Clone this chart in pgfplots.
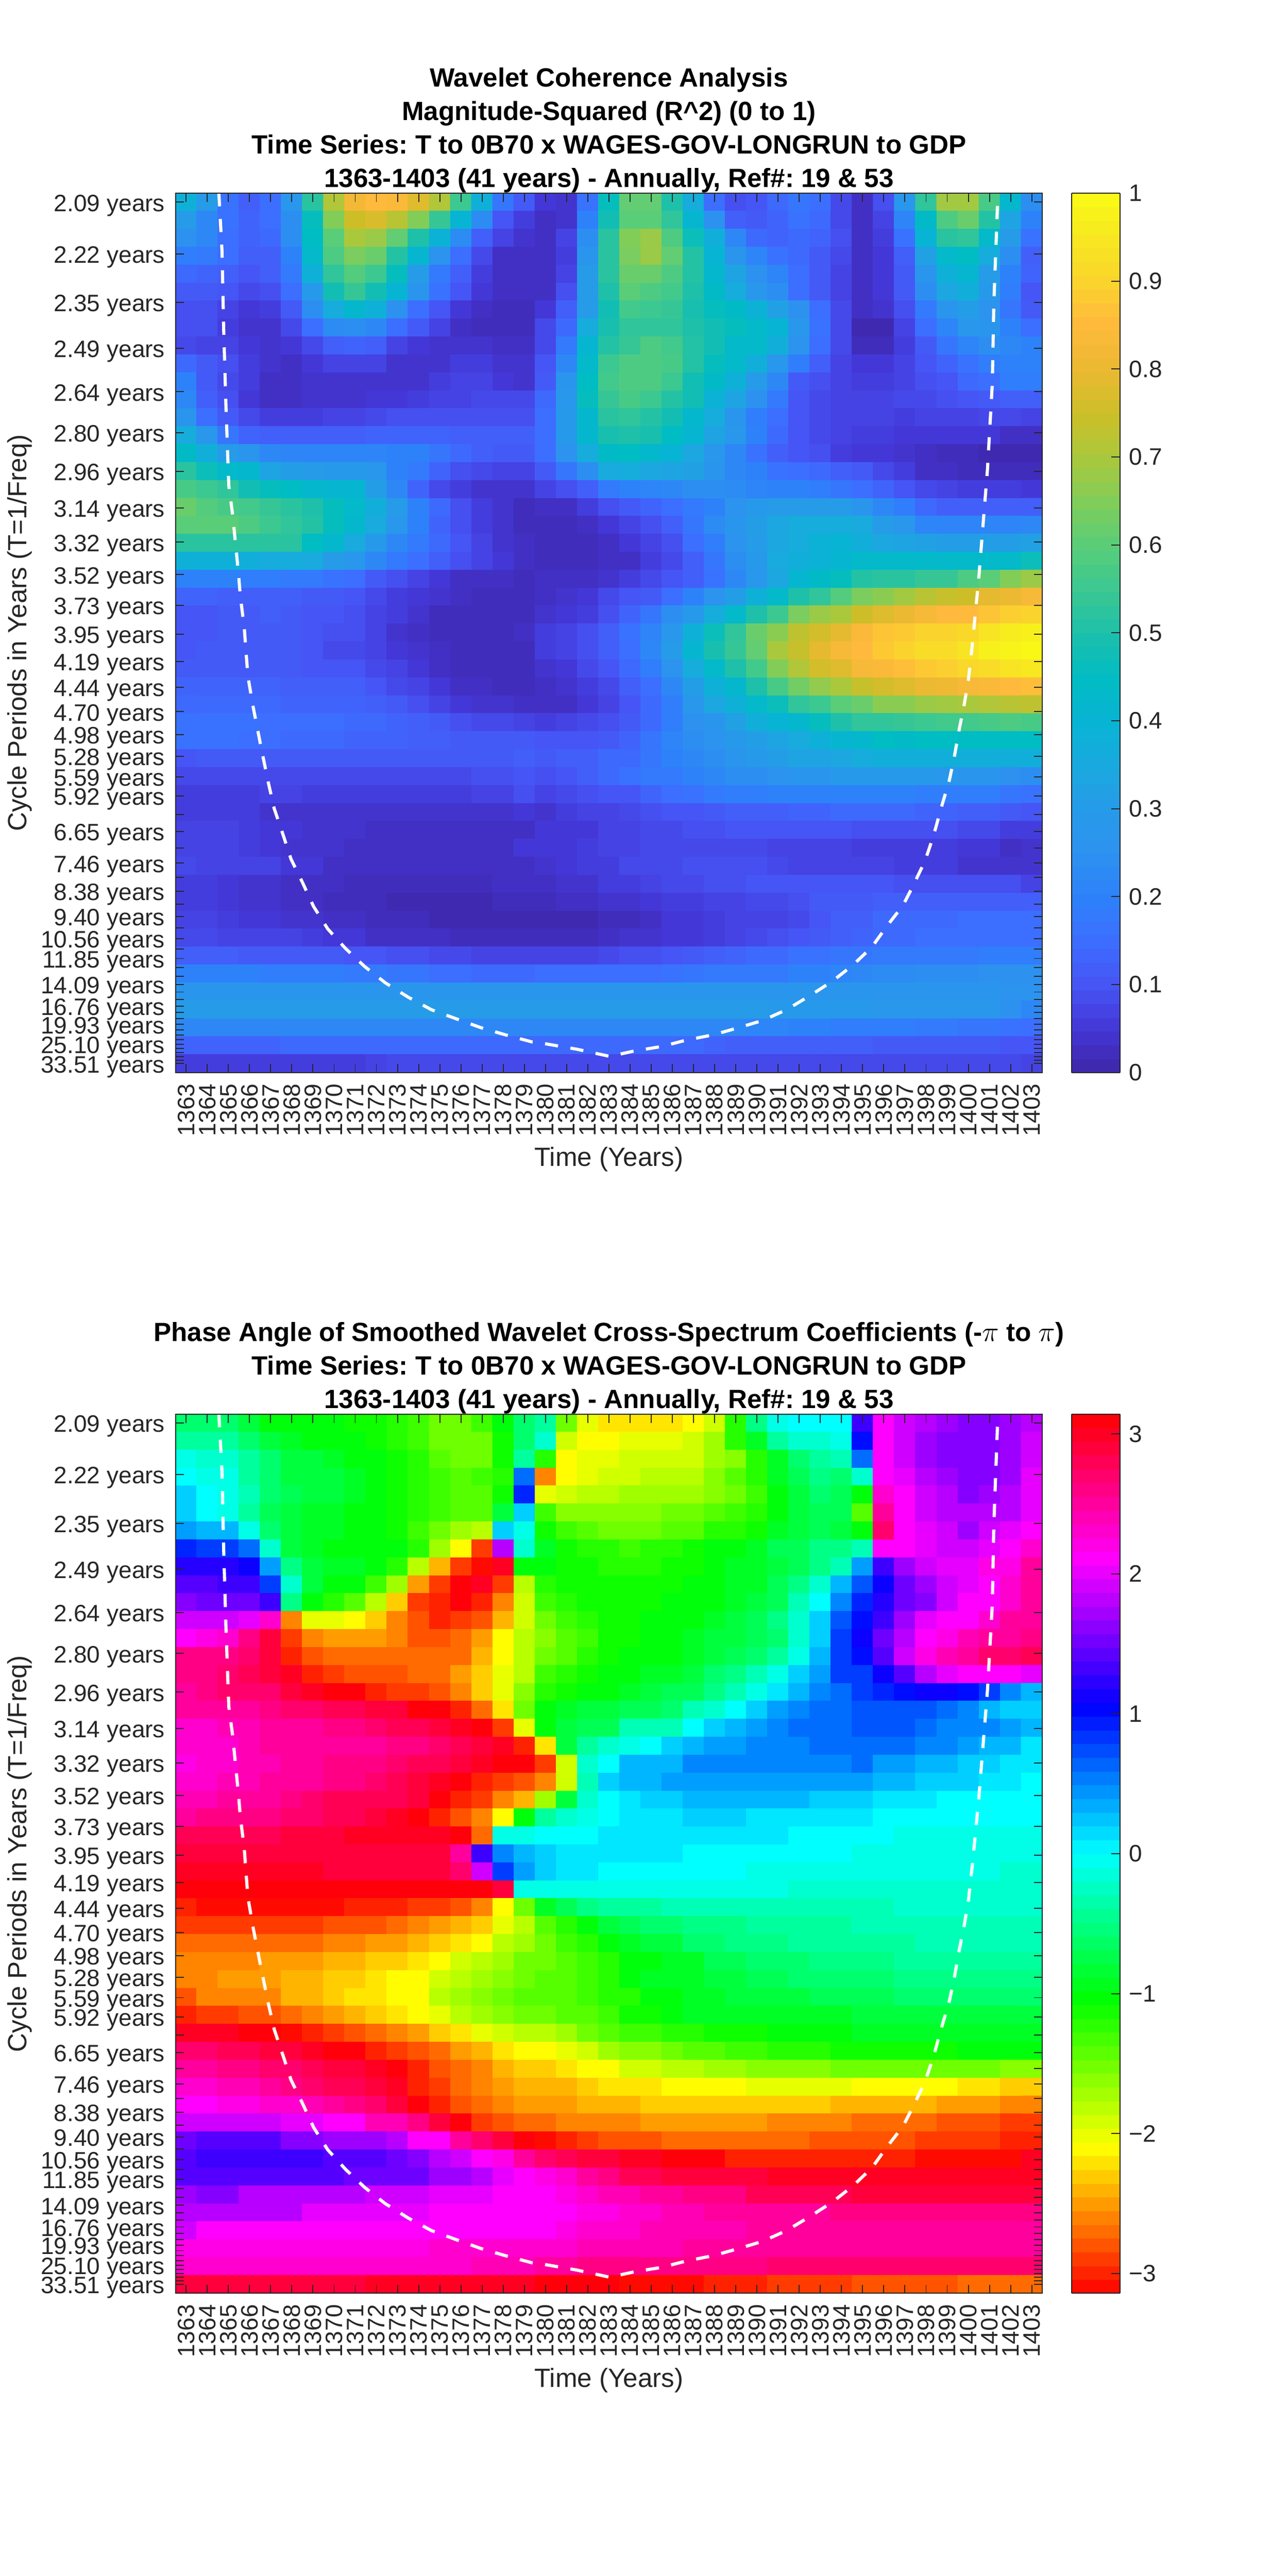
\documentclass[border=0pt]{standalone}
\usepackage{pgfplots}
\pgfplotsset{compat=1.18}
\usepackage{fontspec}
\setmainfont{Liberation Sans}
\frenchspacing
\newcount\rowi \newcount\coli
\def\HMdata{}
\def\HMe{2}
\def\HMcell#1 {\ifx x#1\let\HMnext\relax\else\xdef\HMdata{\HMdata(\the\coli,\the\rowi)[#1e-\HMe]}\advance\coli by 1 \let\HMnext\HMcell\fi\HMnext}
\def\HMrow#1{\coli=1363 \HMcell #1 x \advance\rowi by 1 }
% Coherence x 100, one line per period row, 1363..1403
\rowi=0
\HMrow{38 30 16 12 15 28 52 71 82 85 84 78 71 55 38 17 11 5 4 16 46 61 61 50 36 15 9 10 14 17 15 8 3 9 28 53 69 69 57 42 24}
\HMrow{30 22 16 13 15 24 46 65 75 77 72 65 54 40 23 10 6 3 4 20 48 60 60 53 41 25 12 11 13 16 14 8 3 7 21 44 58 62 51 33 20}
\HMrow{25 22 15 13 14 24 45 60 70 68 61 50 39 23 12 7 4 3 7 24 52 65 68 58 47 37 22 14 13 14 13 9 3 6 16 40 52 53 43 30 16}
\HMrow{19 18 15 12 12 20 43 58 64 62 51 41 26 15 8 3 3 3 6 27 52 64 68 61 51 40 27 21 16 14 11 8 3 5 12 32 43 45 36 24 12}
\HMrow{14 13 12 10 12 18 38 53 59 55 46 30 18 12 6 3 3 3 7 30 52 62 62 58 51 42 33 25 21 15 11 7 3 5 11 27 38 41 30 20 13}
\HMrow{11 11 10 8 9 15 29 48 54 48 40 27 16 10 5 3 3 3 9 30 50 60 58 56 50 44 36 28 24 15 11 7 3 5 11 24 34 37 29 19 10}
\HMrow{9 9 7 5 6 11 24 36 42 38 25 15 10 5 3 2 2 5 12 30 48 56 55 54 49 46 44 39 32 25 15 8 3 4 9 18 27 31 26 17 11}
\HMrow{9 9 6 4 4 8 15 23 24 22 15 11 7 3 2 2 2 8 14 36 49 53 53 53 50 48 46 43 40 28 16 8 1 1 7 15 21 28 27 20 15}
\HMrow{8 7 7 5 4 5 8 12 13 12 7 5 4 4 4 3 3 8 18 41 51 54 58 56 51 48 43 43 37 26 15 8 2 2 6 11 17 21 24 22 20}
\HMrow{14 11 9 6 4 3 5 7 7 7 4 4 4 6 6 4 4 10 22 43 55 58 58 57 51 46 43 37 28 19 12 7 5 5 7 10 13 16 19 20 20}
\HMrow{20 11 8 6 3 3 4 4 4 4 4 4 6 7 7 5 4 11 27 45 56 58 58 55 48 44 38 30 22 11 9 7 6 6 7 9 10 14 15 19 19}
\HMrow{22 12 9 5 3 3 4 4 4 5 5 6 7 7 8 8 8 14 28 46 54 57 55 51 48 39 33 25 18 10 8 7 7 7 8 8 9 10 11 12 12}
\HMrow{27 15 11 8 6 6 6 7 7 8 9 9 9 9 9 9 9 15 29 42 52 53 51 48 42 36 27 19 15 10 8 7 7 7 6 7 7 7 8 8 7}
\HMrow{36 28 17 13 12 12 12 12 12 13 13 13 13 12 12 12 12 15 29 42 49 50 49 45 41 33 28 20 14 10 8 7 6 6 5 5 5 5 5 3 3}
\HMrow{44 37 30 27 22 21 21 21 21 21 20 20 17 14 12 11 11 15 26 36 44 45 42 40 34 28 22 16 12 10 9 6 5 5 4 3 2 2 1 1 1}
\HMrow{52 47 43 42 33 31 30 29 29 28 20 18 13 9 8 7 7 11 17 24 35 36 34 33 32 27 22 20 16 15 14 12 11 8 6 3 3 2 2 2 2}
\HMrow{57 55 53 48 46 45 42 41 41 31 22 13 8 6 4 4 4 7 9 12 18 20 21 22 24 24 23 21 20 20 19 17 15 13 10 8 7 6 6 6 5}
\HMrow{62 59 57 56 54 52 50 46 43 37 30 20 14 9 6 4 2 3 3 6 9 11 13 15 18 20 26 29 30 30 30 30 27 22 19 14 12 12 12 12 12}
\HMrow{60 60 60 58 55 53 51 46 42 35 28 20 13 9 6 4 2 2 2 3 5 7 9 12 17 23 27 31 34 36 36 36 35 30 28 21 21 21 21 21 22}
\HMrow{52 52 52 52 52 52 45 42 35 29 22 18 14 10 7 4 3 2 2 2 3 5 7 9 15 19 26 30 34 36 39 40 37 34 33 32 31 31 31 31 32}
\HMrow{38 38 38 37 36 36 35 30 28 22 18 15 12 9 7 5 3 2 2 2 3 3 6 8 12 17 24 29 35 37 39 41 43 43 43 43 43 43 43 43 47}
\HMrow{20 20 20 19 19 18 18 16 15 11 9 7 5 3 3 3 2 3 3 3 4 6 8 10 12 16 22 28 34 41 44 46 51 52 52 54 54 58 60 65 68}
\HMrow{13 13 12 12 12 12 11 11 10 8 6 5 4 3 2 2 2 3 4 5 8 10 11 15 20 26 31 38 43 50 53 59 64 66 69 72 74 75 79 80 83}
\HMrow{10 10 11 11 12 11 10 10 9 7 6 4 2 2 2 2 2 4 5 6 9 13 17 24 29 36 43 50 55 64 68 70 75 78 80 83 85 85 87 89 90}
\HMrow{10 10 11 11 11 11 10 9 9 7 4 3 2 2 2 2 3 6 7 9 12 16 21 28 38 47 53 62 66 73 76 79 84 87 88 90 90 91 94 96 97}
\HMrow{10 11 11 11 11 11 10 8 8 7 5 4 3 2 2 2 2 6 7 9 12 15 22 30 41 49 54 61 70 74 79 83 85 88 90 92 92 94 97 98 99}
\HMrow{11 11 11 11 11 11 10 10 10 8 7 5 3 2 2 2 2 4 5 8 10 14 19 26 36 43 50 56 65 71 76 78 83 84 86 88 89 91 92 94 95}
\HMrow{13 13 13 13 13 12 12 12 12 10 8 7 5 3 3 2 2 3 4 6 8 12 15 22 31 38 42 50 57 63 67 70 74 76 78 80 81 83 84 85 86}
\HMrow{14 14 14 14 14 13 13 13 13 12 11 9 7 5 4 4 3 3 3 5 7 10 14 19 28 34 38 43 47 53 55 60 62 66 66 68 69 70 71 72 73}
\HMrow{16 16 16 16 15 15 15 15 14 14 13 12 11 9 8 8 7 6 7 8 9 11 14 19 25 27 32 37 40 42 46 50 53 53 54 55 56 56 57 58 57}
\HMrow{16 16 16 15 15 14 14 14 13 13 13 12 12 11 11 11 11 10 10 10 11 13 17 21 24 26 29 31 33 35 38 41 42 45 44 45 45 45 45 45 45}
\HMrow{10 11 11 11 11 11 11 11 11 11 11 11 11 11 11 11 12 11 12 12 14 14 17 20 22 24 27 29 31 33 33 34 36 37 37 37 37 37 37 37 37}
\HMrow{8 8 8 8 8 8 8 8 8 8 8 8 8 8 9 9 10 9 10 12 14 16 18 18 20 22 24 24 26 27 27 29 29 29 29 29 28 27 27 25 24}
\HMrow{6 6 6 6 7 7 6 6 6 6 6 6 6 6 7 7 9 7 8 9 10 10 13 15 16 18 19 19 20 20 20 20 20 20 20 19 19 19 19 17 16}
\HMrow{6 6 6 6 4 4 4 4 4 4 4 4 4 4 4 4 5 4 6 7 7 8 9 10 10 11 12 12 12 13 13 14 14 14 14 13 13 12 12 11 10}
\HMrow{7 7 7 6 5 5 4 4 4 3 3 3 3 3 3 3 3 5 5 5 7 7 8 8 9 9 10 10 10 10 10 10 9 9 9 9 9 8 8 6 6}
\HMrow{7 7 7 6 5 4 4 4 3 3 3 3 3 3 3 3 5 5 5 6 7 7 8 8 8 8 8 8 7 7 7 7 6 6 6 6 6 5 5 3 4}
\HMrow{8 7 7 7 7 5 5 3 3 3 3 3 3 3 3 3 3 4 5 6 6 8 8 8 9 9 9 9 8 7 7 7 7 7 6 6 6 4 4 4 4}
\HMrow{6 6 5 4 4 3 3 3 2 2 2 2 2 2 2 3 3 3 4 4 6 6 7 8 8 9 9 10 10 10 10 10 10 10 9 9 9 9 9 9 7}
\HMrow{6 6 5 4 4 3 3 2 2 2 1 1 1 1 1 2 2 2 3 3 4 4 5 6 6 7 7 8 8 9 11 11 11 12 12 12 12 12 12 12 12}
\HMrow{7 7 6 5 5 4 4 3 3 2 2 2 1 1 1 1 1 1 1 1 2 2 3 5 5 6 7 7 7 8 10 12 12 14 14 14 14 15 15 15 15}
\HMrow{8 8 7 7 7 7 6 5 5 3 3 3 3 2 2 2 2 2 2 2 3 4 4 5 5 6 7 8 9 10 11 12 13 14 14 15 15 15 15 15 15}
\HMrow{12 12 12 11 11 11 11 11 10 10 9 9 8 8 7 7 7 7 7 7 8 9 9 10 11 12 13 14 14 16 16 17 17 18 18 18 18 18 19 19 19}
\HMrow{20 20 20 20 19 19 19 19 18 18 17 17 15 15 14 14 14 15 15 15 15 15 15 16 17 18 18 18 18 20 20 21 22 23 23 24 24 24 25 25 25}
\HMrow{27 27 27 27 27 27 27 27 27 27 27 27 27 27 27 27 27 27 27 27 27 27 27 27 27 27 27 27 27 27 27 27 27 27 27 27 27 27 27 26 26}
\HMrow{30 30 30 30 30 30 30 30 30 30 30 30 30 30 30 30 30 30 30 30 30 30 30 30 30 30 30 30 29 29 29 29 29 28 28 28 28 28 28 25 22}
\HMrow{22 22 22 22 22 22 22 22 22 22 22 22 22 22 22 22 22 22 22 22 22 22 22 22 22 22 22 21 21 20 20 19 19 19 19 18 18 17 17 16 15}
\HMrow{13 13 13 13 13 14 14 14 14 14 14 14 14 14 14 14 14 14 14 14 14 14 14 14 14 13 12 12 12 12 12 12 12 11 11 11 11 11 11 10 10}
\HMrow{6 6 6 6 6 6 6 6 6 7 8 8 8 8 8 8 8 8 8 8 8 8 8 8 8 8 8 8 8 8 8 8 8 8 8 8 8 8 8 8 7}
\let\DataA\HMdata
\def\HMdata{}
\def\HMe{1}
% Phase angle x 10, one line per period row, 1363..1403
\rowi=0
\HMrow{-6 -6 -6 -8 -10 -10 -10 -10 -11 -11 -12 -13 -15 -15 -13 -10 -6 -4 -15 -20 -22 -22 -22 -22 -21 -19 -12 -5 -1 0 0 0 13 21 19 18 17 16 16 17 18}
\HMrow{-4 -4 -4 -6 -8 -9 -10 -10 -10 -11 -12 -13 -15 -15 -15 -11 -6 -2 -19 -21 -21 -20 -20 -20 -19 -17 -12 -9 -4 -2 -2 -1 10 21 19 17 16 16 16 17 19}
\HMrow{-1 -2 -2 -4 -6 -8 -8 -9 -10 -10 -11 -12 -14 -15 -15 -11 -4 -12 -21 -20 -20 -19 -19 -19 -19 -17 -16 -12 -9 -6 -4 -3 6 21 19 17 16 16 16 17 19}
\HMrow{0 -1 -1 -4 -6 -8 -8 -8 -9 -10 -11 -12 -13 -14 -13 -12 6 -26 -21 -20 -19 -19 -18 -18 -18 -16 -14 -12 -9 -7 -5 -6 -2 21 20 18 17 16 16 17 20}
\HMrow{2 0 -1 -3 -6 -7 -8 -8 -9 -10 -11 -12 -13 -14 -14 -11 9 -20 -19 -18 -18 -17 -17 -17 -17 -16 -15 -13 -10 -8 -6 -7 -10 23 21 19 18 16 17 18 20}
\HMrow{2 0 -1 -4 -7 -8 -9 -9 -10 -10 -11 -12 -13 -14 -14 -8 2 -13 -16 -16 -16 -16 -16 -15 -15 -14 -13 -12 -10 -8 -7 -7 -14 25 21 19 18 18 18 18 20}
\HMrow{4 3 3 -1 -6 -8 -9 -9 -10 -10 -11 -13 -15 -17 -18 2 -1 -11 -13 -14 -15 -15 -15 -14 -14 -12 -12 -11 -9 -8 -7 -8 -10 27 21 20 19 17 19 20 21}
\HMrow{9 8 8 6 -2 -8 -9 -10 -10 -10 -10 -12 -17 -21 -29 18 -2 -9 -11 -12 -12 -13 -12 -12 -11 -10 -10 -9 -7 -7 -5 -5 -3 21 21 20 19 19 20 21 23}
\HMrow{12 12 12 11 4 -5 -8 -9 -9 -10 -12 -18 -24 -29 -31 30 -10 -10 -11 -11 -12 -12 -12 -11 -11 -10 -9 -9 -8 -7 -5 -3 4 13 17 19 20 20 22 22 25}
\HMrow{14 14 13 13 8 -2 -8 -10 -10 -13 -17 -25 -29 31 30 -29 -18 -12 -11 -11 -11 -11 -11 -11 -10 -10 -9 -9 -7 -5 -2 3 7 11 15 17 19 20 21 23 25}
\HMrow{16 15 15 15 13 -5 -10 -12 -14 -18 -23 -29 -30 31 -30 -26 -19 -13 -12 -11 -11 -11 -11 -10 -10 -10 -9 -8 -7 -3 0 5 9 12 15 16 19 21 21 23 25}
\HMrow{19 19 19 20 23 -26 -20 -20 -21 -23 -26 -28 -30 -29 -28 -24 -19 -15 -13 -12 -11 -11 -10 -10 -10 -9 -8 -7 -5 -2 2 7 10 13 17 20 21 21 23 25 25}
\HMrow{21 22 23 26 29 -29 -26 -25 -25 -25 -26 -28 -28 -27 -25 -21 -18 -16 -14 -13 -11 -11 -10 -10 -9 -8 -8 -7 -6 -2 2 8 11 15 18 21 22 24 25 25 26}
\HMrow{26 26 26 27 29 -30 -28 -27 -27 -27 -27 -27 -27 -27 -24 -21 -18 -15 -14 -12 -11 -10 -10 -10 -9 -8 -7 -6 -4 -1 3 8 10 14 19 22 24 25 27 27 28}
\HMrow{26 26 27 28 29 30 -30 -29 -28 -28 -28 -27 -27 -25 -23 -20 -18 -13 -12 -11 -10 -10 -9 -9 -8 -6 -5 -3 -1 2 4 8 8 11 14 18 20 21 21 21 20}
\HMrow{25 26 27 27 27 29 30 31 31 -30 -29 -29 -28 -26 -23 -20 -16 -12 -11 -10 -10 -9 -8 -7 -7 -5 -3 -1 1 3 5 6 8 9 10 11 11 10 8 5 3}
\HMrow{25 25 25 25 26 27 27 28 28 29 29 31 31 -30 -27 -22 -15 -10 -9 -8 -8 -7 -7 -6 -3 -2 0 2 4 5 6 6 7 7 7 7 6 5 3 2 2}
\HMrow{23 23 24 24 25 25 25 26 26 27 28 28 29 30 31 -29 -20 -10 -8 -7 -7 -3 -3 -3 0 2 3 4 5 6 6 6 7 7 7 6 5 5 5 4 3}
\HMrow{23 23 23 24 25 25 25 25 25 25 26 26 27 28 29 30 -30 -22 -8 -4 -2 -1 0 2 3 4 4 5 5 5 6 6 6 6 6 5 5 4 3 3 1}
\HMrow{22 23 23 24 24 25 25 26 26 26 27 28 28 29 30 31 31 -29 -19 -2 0 3 3 3 5 5 5 5 5 5 5 5 6 4 4 3 3 2 2 1 1}
\HMrow{23 23 24 24 25 25 25 26 26 27 28 29 30 31 -30 -29 -28 -26 -19 -3 2 3 3 4 4 4 4 4 4 4 4 4 4 3 3 2 2 2 1 1 0}
\HMrow{24 24 25 25 25 26 27 28 28 28 28 29 31 -30 -29 -26 -24 -17 -8 -2 0 1 2 2 3 3 3 3 3 3 2 2 2 1 1 1 0 0 0 0 0}
\HMrow{25 26 26 26 26 27 27 28 28 29 30 31 -30 -28 -26 -21 -10 -4 -2 -1 0 1 1 1 2 2 2 1 1 1 1 1 1 0 0 0 0 0 0 0 0}
\HMrow{28 28 28 28 28 29 29 29 30 30 30 30 30 31 -27 -1 -1 0 0 0 1 1 1 1 1 1 1 1 1 0 0 0 0 0 -1 -1 -1 -1 -1 -1 -1}
\HMrow{29 29 29 29 29 29 29 29 29 29 29 29 29 25 13 5 3 2 1 1 1 1 1 1 0 0 0 0 0 0 0 0 -1 -1 -1 -1 -1 -1 -1 -1 -1}
\HMrow{30 30 30 30 30 30 30 29 29 29 29 29 29 27 19 8 4 2 1 1 0 0 0 0 0 0 0 -1 -1 -1 -1 -1 -1 -1 -1 -1 -1 -1 -1 -2 -2}
\HMrow{31 31 31 31 31 31 31 31 31 31 31 31 31 31 31 29 -1 -1 -1 -1 -1 -1 -1 -1 -1 -1 -1 -1 -1 -2 -2 -2 -2 -2 -2 -2 -2 -2 -2 -2 -2}
\HMrow{-30 -31 -31 -31 -31 -31 -31 -31 -30 -30 -30 -29 -29 -28 -26 -21 -15 -9 -7 -5 -4 -4 -4 -3 -3 -3 -3 -3 -3 -3 -3 -3 -3 -3 -2 -2 -2 -2 -2 -2 -2}
\HMrow{-29 -29 -29 -29 -29 -29 -29 -28 -28 -28 -27 -26 -25 -24 -23 -20 -18 -14 -12 -10 -8 -7 -6 -6 -5 -5 -5 -4 -4 -4 -4 -4 -3 -3 -3 -3 -3 -3 -3 -3 -3}
\HMrow{-27 -27 -27 -27 -27 -27 -27 -26 -26 -25 -25 -24 -23 -22 -21 -18 -17 -15 -13 -12 -10 -9 -8 -8 -6 -6 -5 -5 -5 -4 -4 -4 -4 -4 -4 -3 -3 -3 -3 -3 -3}
\HMrow{-26 -26 -26 -26 -25 -25 -25 -24 -24 -23 -23 -22 -21 -19 -18 -17 -15 -15 -14 -13 -12 -10 -10 -9 -9 -7 -7 -6 -6 -6 -5 -5 -5 -5 -4 -4 -4 -4 -4 -4 -4}
\HMrow{-26 -26 -25 -25 -25 -24 -24 -23 -23 -22 -21 -21 -19 -18 -17 -16 -15 -14 -14 -13 -12 -10 -9 -9 -9 -8 -8 -7 -7 -6 -6 -6 -6 -6 -5 -5 -5 -5 -5 -5 -5}
\HMrow{-28 -26 -26 -26 -26 -24 -24 -23 -22 -22 -21 -21 -18 -17 -16 -15 -14 -14 -14 -13 -12 -12 -10 -10 -9 -9 -8 -8 -8 -8 -7 -7 -7 -7 -6 -6 -6 -6 -6 -6 -6}
\HMrow{-30 -29 -29 -28 -28 -27 -26 -25 -24 -23 -22 -21 -20 -18 -17 -16 -15 -15 -14 -14 -13 -11 -11 -10 -9 -9 -9 -9 -9 -9 -9 -9 -8 -8 -8 -8 -8 -8 -8 -8 -8}
\HMrow{30 30 30 31 31 -31 -30 -29 -28 -27 -26 -25 -23 -22 -20 -19 -18 -18 -17 -15 -14 -13 -13 -12 -12 -11 -11 -11 -10 -10 -10 -10 -9 -9 -9 -9 -9 -9 -9 -9 -9}
\HMrow{27 27 28 28 29 29 30 31 31 -30 -29 -28 -27 -25 -24 -22 -21 -21 -20 -19 -17 -16 -16 -15 -14 -14 -13 -13 -12 -12 -12 -11 -11 -11 -11 -11 -11 -10 -10 -10 -10}
\HMrow{25 25 26 26 27 27 28 29 29 30 31 -30 -28 -27 -26 -24 -23 -23 -22 -21 -21 -19 -19 -18 -18 -17 -17 -16 -16 -16 -16 -15 -15 -15 -15 -15 -15 -15 -15 -16 -16}
\HMrow{23 23 24 24 25 26 27 28 28 29 30 -30 -29 -27 -26 -25 -24 -24 -24 -23 -22 -22 -22 -21 -21 -21 -21 -20 -20 -20 -20 -20 -21 -21 -21 -21 -21 -22 -22 -23 -23}
\HMrow{21 21 22 22 23 23 24 25 26 27 29 31 -30 -28 -27 -26 -25 -25 -25 -24 -24 -24 -23 -23 -23 -23 -23 -23 -23 -23 -23 -24 -24 -24 -24 -24 -25 -25 -25 -26 -26}
\HMrow{19 19 19 19 19 20 20 21 21 24 24 26 29 31 -29 -28 -27 -27 -26 -26 -26 -26 -25 -25 -25 -25 -25 -25 -26 -26 -26 -26 -27 -27 -27 -27 -28 -28 -28 -29 -29}
\HMrow{15 14 14 14 14 16 16 17 17 17 18 21 21 25 27 29 31 -31 -30 -29 -28 -28 -28 -27 -27 -27 -27 -27 -27 -27 -28 -28 -28 -28 -28 -29 -29 -29 -29 -30 -30}
\HMrow{14 13 13 13 13 13 13 14 14 14 15 16 18 19 21 22 25 27 28 29 29 30 30 31 31 31 -30 -30 -30 -30 -30 -30 -30 -30 -30 -31 -31 -31 -31 -31 30}
\HMrow{14 14 14 14 14 14 14 14 15 15 15 15 17 17 18 20 21 22 23 25 26 28 28 29 29 29 29 29 30 30 30 30 30 30 30 30 30 30 30 30 30}
\HMrow{17 16 16 18 18 18 18 18 18 19 19 19 20 20 20 21 21 21 22 23 24 24 25 25 26 26 26 28 28 28 28 28 29 29 29 29 29 29 29 29 29}
\HMrow{18 18 18 18 18 18 20 20 20 20 20 20 21 21 21 21 21 21 21 22 22 23 23 24 24 25 25 25 25 25 25 26 26 26 26 26 26 26 26 26 26}
\HMrow{19 21 21 21 21 21 21 21 21 21 21 21 21 21 21 21 21 21 22 23 23 23 24 24 24 24 24 25 25 25 25 25 25 25 25 25 25 25 25 25 25}
\HMrow{22 22 22 22 22 22 22 22 22 22 22 22 23 23 23 23 23 23 23 24 24 24 24 24 25 25 25 25 25 25 25 25 25 25 25 25 25 25 25 25 25}
\HMrow{23 23 23 23 23 23 23 23 23 23 23 23 23 23 24 24 24 25 25 26 26 26 26 26 26 26 26 26 27 27 27 27 27 27 27 27 27 27 27 27 27}
\HMrow{29 29 29 29 29 29 29 29 29 30 30 30 30 30 30 30 30 31 31 31 31 -31 -31 -31 -31 -30 -30 -30 -29 -29 -29 -29 -28 -28 -28 -28 -28 -27 -27 -27 -27}
\let\DataB\HMdata

\def\HMplot#1{\addplot[matrix plot*, mesh/cols=41, point meta=explicit] coordinates {#1};}
\newcommand\coiplot{\addplot[draw=white, no markers, line width=1.9pt, dash pattern=on 8pt off 7.6pt] coordinates {
(1364.55,-0.5) (1364.7,2.76) (1364.78,7.17) (1364.89,11.56) (1365.02,15.8) (1365.2,17.4) (1365.47,20.6) (1365.57,22) (1365.75,23.7) (1365.92,26.4) (1366.15,28) (1366.55,30.4) (1366.88,32.3) (1367.17,33.8) (1367.6,35.3) (1367.96,36.6) (1368.5,37.9) (1369.03,39.25) (1369.7,40.5) (1370.55,41.6) (1371.45,42.6) (1372.42,43.5) (1373.5,44.3) (1374.6,45) (1375.76,45.5) (1376.94,46) (1378.1,46.4) (1379.37,46.8) (1380,46.9) (1381.47,47.2) (1383.03,47.6) (1384.2,47.3) (1385.5,47.05) (1386.64,46.7) (1387.93,46.4) (1389.14,46) (1390.27,45.6) (1391.4,45) (1392.53,44.2) (1393.58,43.4) (1394.55,42.5) (1395.44,41.5) (1396.17,40.3) (1396.9,39.2) (1397.38,38.1) (1397.95,36.7) (1398.35,35.3) (1398.75,33.6) (1399.08,32.3) (1399.32,31) (1399.56,29.4) (1399.8,28) (1400,26.6) (1400.18,24.7) (1400.37,22.4) (1400.5,20.8) (1400.9,14.9) (1401.13,10.1) (1401.2,5.7) (1401.37,0.28) (1401.42,-0.5)};}

\definecolor{axgray}{gray}{0.15}
\newcommand\tickfont{\fontsize{14.4}{16}\selectfont}
\pgfplotsset{
 colormap={paru}{rgb255=(62,38,168) rgb255=(68,55,215) rgb255=(70,85,245) rgb255=(60,110,255) rgb255=(45,130,250) rgb255=(45,145,240) rgb255=(38,155,232) rgb255=(25,170,222) rgb255=(8,180,212) rgb255=(0,188,195) rgb255=(30,192,170) rgb255=(60,200,145) rgb255=(90,205,120) rgb255=(130,205,88) rgb255=(170,200,60) rgb255=(205,190,40) rgb255=(235,185,50) rgb255=(255,185,60) rgb255=(250,212,45) rgb255=(247,232,32) rgb255=(249,251,20)},
 colormap={phase}{rgb=(1,0,0) rgb=(1,1,0) rgb=(0,1,0) rgb=(0,1,1) rgb=(0,0,1) rgb=(1,0,1) rgb=(1,0,0)},
 hm/.style={
  scale only axis, width=526pt, height=533.5pt, anchor=south west,
  xmin=1362.5, xmax=1403.5, ymin=-0.5, ymax=48.5, y dir=reverse, axis on top,
  axis line style={axgray, line width=0.6pt},
  tick style={axgray, line width=0.6pt},
  tick align=inside, major tick length=5.25pt,
  xtick={1363,1364,...,1403},
  /pgf/number format/1000 sep={},
  /pgf/number format/assume math mode=true,
  xticklabel style={rotate=90, anchor=east, inner sep=0pt, xshift=-6.6pt, font=\tickfont, text=axgray},
  yticklabel style={anchor=east, inner sep=0pt, xshift=-6.25pt, yshift=-2pt, font=\tickfont, text=axgray},
  ytick={0,2.874,5.586,8.146,10.562,12.843,14.996,17.028,18.946,20.756,22.465,24.078,25.6,27.037,28.393,29.673,30.881,32.022,33.098,34.114,35.073,35.978,36.832,37.639,38.4,39.119,39.797,40.437,41.041,41.611,42.149,42.657,43.136,43.589,44.016,44.419,44.8,45.159,45.498,45.818,46.12,46.405,46.675,46.929,47.168,47.395,47.608,47.81,48},
  yticklabels={2.09 years,2.22 years,2.35 years,2.49 years,2.64 years,2.80 years,2.96 years,3.14 years,3.32 years,3.52 years,3.73 years,3.95 years,4.19 years,4.44 years,4.70 years,4.98 years,5.28 years,5.59 years,5.92 years,{},6.65 years,{},7.46 years,{},8.38 years,{},9.40 years,{},10.56 years,{},11.85 years,{},{},14.09 years,{},{},16.76 years,{},{},19.93 years,{},{},{},25.10 years,{},{},{},{},33.51 years},
  xlabel={Time (Years)},
  ylabel={Cycle Periods in Years (T=1/Freq)},
  xlabel style={at={(axis description cs:0.5,0)}, anchor=north, inner sep=0pt, yshift=-45pt, font=\fontsize{16}{18}\selectfont, text=axgray},
  ylabel style={at={(axis description cs:-0.18,0.5)}, anchor=center, inner sep=0pt, font=\fontsize{16}{18}\selectfont, text=axgray},
  title style={at={(axis description cs:0.5,1)}, anchor=south, align=center, inner sep=0pt, yshift=-6pt, font=\bfseries\fontsize{16}{20.3}\selectfont},
  colorbar sampled,
  colorbar shift/.style={xshift=17.75pt},
 },
 cb/.style={
  at={(parent axis.north east)}, anchor=north west,
  width=29.25pt, samples=65,
  axis line style={axgray, line width=0.6pt},
  tick style={axgray, line width=0.6pt},
  tick align=inside, major tick length=5.25pt, ytick pos=right,
  yticklabel style={anchor=west, inner sep=0pt, xshift=5.5pt, font=\tickfont, text=axgray},
 },
}
\begin{document}
\begin{tikzpicture}
\path[use as bounding box] (0pt,0pt) rectangle (781.25pt,1563pt);
\begin{axis}[hm, at={(106.5pt,912.25pt)},
  colormap name=paru, point meta min=0, point meta max=1,
  title={Wavelet Coherence Analysis\\Magnitude-Squared (R\^{}2) (0 to 1)\\Time Series: T to 0B70 x WAGES-GOV-LONGRUN to GDP\\1363-1403 (41 years) - Annually, Ref\#: 19 \& 53},
  colorbar style={cb, ytick={0,0.1,0.2,0.3,0.4,0.5,0.6,0.7,0.8,0.9,1}, yticklabels={0,0.1,0.2,0.3,0.4,0.5,0.6,0.7,0.8,0.9,1}},
]
\expandafter\HMplot\expandafter{\DataA}
\coiplot
\end{axis}
\begin{axis}[hm, at={(106.5pt,171.5pt)},
  colormap name=phase, point meta min=-3.1416, point meta max=3.1416,
  title={Phase Angle of Smoothed Wavelet Cross-Spectrum Coefficients (-$\pi$ to $\pi$)\\Time Series: T to 0B70 x WAGES-GOV-LONGRUN to GDP\\1363-1403 (41 years) - Annually, Ref\#: 19 \& 53},
  colorbar style={cb, ytick={-3,-2,-1,0,1,2,3}, yticklabels={−3,−2,−1,0,1,2,3}},
]
\expandafter\HMplot\expandafter{\DataB}
\coiplot
\end{axis}
\end{tikzpicture}
\end{document}
